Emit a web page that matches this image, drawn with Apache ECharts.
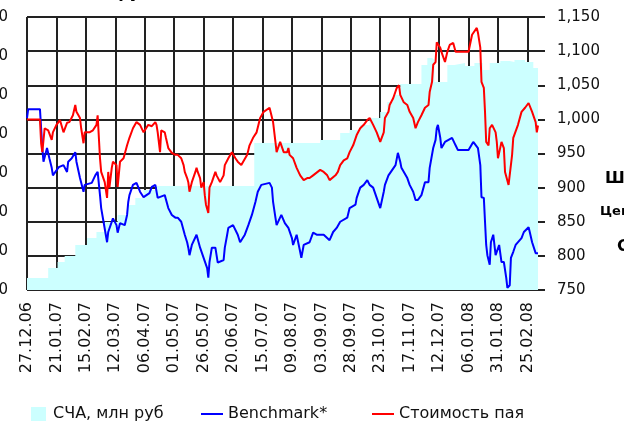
<!DOCTYPE html>
<html>
<head>
<meta charset="utf-8">
<script src="https://cdn.jsdelivr.net/npm/echarts@6/dist/echarts.min.js"></script>
<style>
  html, body { margin: 0; padding: 0; background: #fff; overflow: hidden; }
  #chart { width: 624px; height: 423px; }
</style>
</head>
<body>
<div id="chart"></div>
<script>
// x = days since 27.12.06, one label every 25 days
const tickLabels = ['27.12.06', '21.01.07', '15.02.07', '12.03.07', '06.04.07', '01.05.07',
  '26.05.07', '20.06.07', '15.07.07', '09.08.07', '03.09.07', '28.09.07', '23.10.07',
  '17.11.07', '12.12.07', '06.01.08', '31.01.08', '25.02.08'];

// СЧА, млн руб (left axis)
const navDays = [0, 18, 26, 32, 41, 51, 59, 66, 77, 85, 92, 99, 110, 193, 249, 266, 274, 283,
  291, 300, 306, 311, 317, 335, 340, 344, 346, 357, 363, 372, 380, 387, 393, 402, 410, 414,
  423, 430, 434];
const navValues = [154, 282, 359, 436, 577, 667, 744, 872, 962, 1090, 1179, 1282, 1333, 1885,
  1923, 2013, 2051, 2115, 2205, 2282, 2410, 2500, 2641, 2885, 2974, 2949, 2667, 2885, 2910,
  2872, 2910, 2820, 2910, 2936, 2923, 2949, 2923, 2846, 2820];

// Benchmark* (right axis)
const benchDays = [0, 1, 11, 12, 13, 14, 17, 19, 21, 22, 27, 31, 34, 35, 38, 41, 42, 45, 48, 49,
  55, 58, 60, 62, 63, 65, 68, 69, 73, 76, 77, 79, 83, 85, 86, 87, 90, 93, 96, 99, 104, 106, 109,
  111, 117, 120, 123, 126, 128, 131, 134, 136, 137, 138, 140, 144, 147, 150, 153, 154, 155, 157,
  160, 162, 167, 168, 170, 171, 175, 179, 181, 185, 188, 191, 194, 196, 199, 206, 208, 209, 211,
  212, 216, 219, 222, 225, 226, 229, 232, 233, 235, 240, 243, 246, 252, 257, 260, 263, 266, 272,
  274, 279, 280, 283, 286, 289, 291, 294, 297, 300, 303, 304, 307, 313, 315, 317, 318, 323, 325,
  328, 330, 332, 335, 338, 341, 342, 345, 347, 348, 349, 351, 352, 355, 358, 361, 364, 366, 375,
  379, 383, 385, 386, 388, 389, 390, 391, 393, 394, 396, 398, 401, 403, 405, 407, 408, 410, 411,
  413, 415, 420, 422, 426, 427, 429, 432, 434];
const benchValues = [1002, 1015, 1015, 987, 958, 938, 958, 943, 929, 918, 930, 933, 923, 938,
  943, 952, 938, 914, 894, 904, 907, 918, 923, 889, 870, 850, 820, 835, 855, 845, 834, 848, 845,
  860, 879, 889, 904, 907, 894, 886, 892, 901, 904, 885, 889, 870, 860, 856, 856, 850, 831, 820,
  812, 801, 816, 831, 812, 797, 782, 768, 791, 812, 812, 790, 794, 812, 831, 841, 845, 831, 820,
  831, 845, 860, 879, 894, 904, 907, 900, 879, 856, 845, 860, 848, 841, 826, 816, 831, 806, 797,
  816, 820, 834, 831, 831, 823, 835, 841, 850, 856, 870, 875, 885, 900, 904, 911, 904, 900, 885,
  870, 894, 904, 918, 933, 951, 938, 929, 914, 904, 894, 882, 882, 889, 908, 908, 929, 958, 970,
  987, 992, 973, 958, 967, 970, 973, 962, 955, 955, 967, 958, 933, 886, 885, 850, 816, 801, 787,
  820, 831, 801, 816, 791, 791, 768, 753, 757, 797, 806, 816, 826, 835, 842, 835, 820, 804, 804];

// Стоимость пая (right axis)
const priceDays = [0, 11, 12, 13, 15, 18, 21, 22, 25, 28, 31, 34, 36, 39, 41, 42, 45, 46, 48, 49,
  53, 56, 59, 60, 62, 63, 66, 68, 69, 70, 72, 73, 76, 77, 79, 82, 85, 87, 90, 93, 96, 99, 103,
  106, 109, 110, 111, 113, 114, 117, 118, 120, 123, 126, 128, 131, 133, 134, 136, 137, 138, 140,
  143, 144, 145, 147, 148, 150, 151, 152, 154, 155, 157, 160, 161, 164, 167, 168, 171, 174, 177,
  179, 182, 187, 189, 192, 195, 198, 201, 206, 209, 211, 212, 215, 218, 221, 222, 223, 226, 229,
  232, 235, 238, 240, 243, 249, 252, 255, 257, 262, 264, 266, 269, 272, 274, 277, 280, 283, 286,
  289, 291, 294, 297, 300, 303, 304, 307, 308, 311, 314, 316, 317, 320, 323, 325, 328, 330, 332,
  335, 338, 341, 342, 344, 345, 347, 348, 351, 352, 355, 357, 359, 362, 364, 369, 375, 378, 382,
  383, 385, 386, 388, 389, 390, 392, 393, 395, 398, 399, 400, 403, 405, 406, 409, 410, 412, 413,
  417, 420, 423, 426, 429, 432, 433, 434];
const priceValues = [1000, 1000, 965, 952, 987, 984, 970, 981, 992, 999, 981, 995, 996, 1006,
  1021, 1011, 1002, 987, 965, 981, 981, 984, 992, 1006, 943, 923, 908, 885, 923, 900, 929, 938,
  933, 901, 938, 943, 962, 973, 987, 996, 992, 981, 992, 990, 996, 992, 981, 952, 984, 981, 973,
  958, 951, 948, 948, 943, 933, 923, 914, 908, 894, 908, 923, 929, 923, 914, 900, 908, 889, 875,
  863, 900, 908, 923, 918, 908, 918, 933, 943, 952, 943, 938, 933, 948, 962, 973, 981, 1002, 1011,
  1017, 996, 967, 952, 967, 952, 952, 958, 948, 943, 929, 918, 911, 914, 914, 918, 926, 923, 918,
  911, 918, 923, 933, 940, 943, 952, 962, 977, 987, 992, 999, 1002, 992, 981, 967, 981, 1002,
  1011, 1021, 1031, 1046, 1050, 1036, 1025, 1021, 1011, 1002, 987, 996, 1006, 1017, 1021, 1040,
  1055, 1080, 1084, 1113, 1105, 1099, 1084, 1099, 1109, 1112, 1099, 1099, 1099, 1124, 1134, 1127,
  1105, 1055, 1046, 1011, 967, 962, 987, 992, 981, 967, 943, 967, 958, 923, 904, 904, 948, 973,
  992, 1011, 1017, 1024, 1011, 996, 981, 991];

const pairs = (days, values) => days.map((d, i) => [d, values[i]]);
const font = 'DejaVu Sans';
const textColor = '#111';
const gridColor = '#222';

const chart = echarts.init(document.getElementById('chart'));

const legendText = pad => ({
  fontFamily: font,
  fontSize: 16,
  color: textColor,
  padding: [0, 0, 0, pad]
});

chart.setOption({
  animation: false,
  grid: {
    left: 27,
    right: 86,
    top: 17,
    bottom: 133,
    containLabel: false,
    outerBoundsMode: 'none'
  },
  xAxis: {
    type: 'value',
    min: 0,
    max: 434,
    interval: 25,
    axisLine: { show: false },
    axisTick: { show: false },
    splitLine: {
      show: true,
      showMaxLine: false,
      lineStyle: { color: gridColor, width: 2, type: 'solid' }
    },
    axisLabel: {
      rotate: 90,
      margin: 12,
      fontFamily: font,
      fontSize: 16,
      color: textColor,
      formatter: v => tickLabels[v / 25] || ''
    }
  },
  yAxis: [
    {
      type: 'value',
      position: 'left',
      min: 0,
      max: 3500,
      interval: 500,
      axisLine: { show: false },
      axisTick: { show: false },
      splitLine: { show: false },
      axisLabel: {
        margin: 19,
        fontFamily: font,
        fontSize: 15,
        color: textColor,
        formatter: v => v.toLocaleString('en-US')
      }
    },
    {
      type: 'value',
      position: 'right',
      min: 750,
      max: 1150,
      interval: 50,
      axisLine: { show: false },
      axisTick: {
        show: true,
        length: 7,
        lineStyle: { color: gridColor, width: 2, type: 'solid' }
      },
      splitLine: {
        show: true,
        lineStyle: { color: gridColor, width: 2, type: 'solid' }
      },
      axisLabel: {
        margin: 19,
        fontFamily: font,
        fontSize: 15,
        color: textColor,
        formatter: v => v.toLocaleString('en-US')
      }
    }
  ],
  legend: [
    {
      left: 26,
      top: 401,
      itemWidth: 15,
      itemHeight: 14,
      data: [{ name: 'СЧА, млн руб', icon: 'rect' }],
      textStyle: legendText(2)
    },
    {
      left: 196,
      top: 401,
      itemWidth: 22,
      itemHeight: 2,
      data: [{ name: 'Benchmark*', icon: 'rect' }],
      textStyle: legendText(0)
    },
    {
      left: 367,
      top: 401,
      itemWidth: 22,
      itemHeight: 2,
      data: [{ name: 'Стоимость пая', icon: 'rect' }],
      textStyle: legendText(0)
    }
  ],
  graphic: [
    // pieces of the surrounding page text that are cut off by the frame
    { type: 'text', left: 28, top: -14, style: { text: 'СЧА, млн руб', font: 'bold 16px "DejaVu Sans"', fill: '#000' } },
    { type: 'text', left: 605, top: 171, style: { text: 'Ш', font: 'bold 16px "DejaVu Sans"', fill: '#000' } },
    { type: 'text', left: 600, top: 205, style: { text: 'Цен', font: 'bold 13px "DejaVu Sans"', fill: '#000' } },
    { type: 'text', left: 617, top: 239, style: { text: 'С', font: 'bold 16px "DejaVu Sans"', fill: '#000' } }
  ],
  series: [
    {
      name: 'СЧА, млн руб',
      type: 'line',
      yAxisIndex: 0,
      step: 'end',
      symbol: 'none',
      data: pairs(navDays, navValues),
      lineStyle: { width: 0 },
      itemStyle: { color: '#ccffff' },
      areaStyle: { color: '#ccffff', opacity: 1 }
    },
    {
      name: 'Benchmark*',
      type: 'line',
      yAxisIndex: 1,
      symbol: 'none',
      data: pairs(benchDays, benchValues),
      lineStyle: { color: '#0000ff', width: 2 },
      itemStyle: { color: '#0000ff' }
    },
    {
      name: 'Стоимость пая',
      type: 'line',
      yAxisIndex: 1,
      symbol: 'none',
      data: pairs(priceDays, priceValues),
      lineStyle: { color: '#ff0000', width: 2 },
      itemStyle: { color: '#ff0000' }
    }
  ]
});
</script>
</body>
</html>
